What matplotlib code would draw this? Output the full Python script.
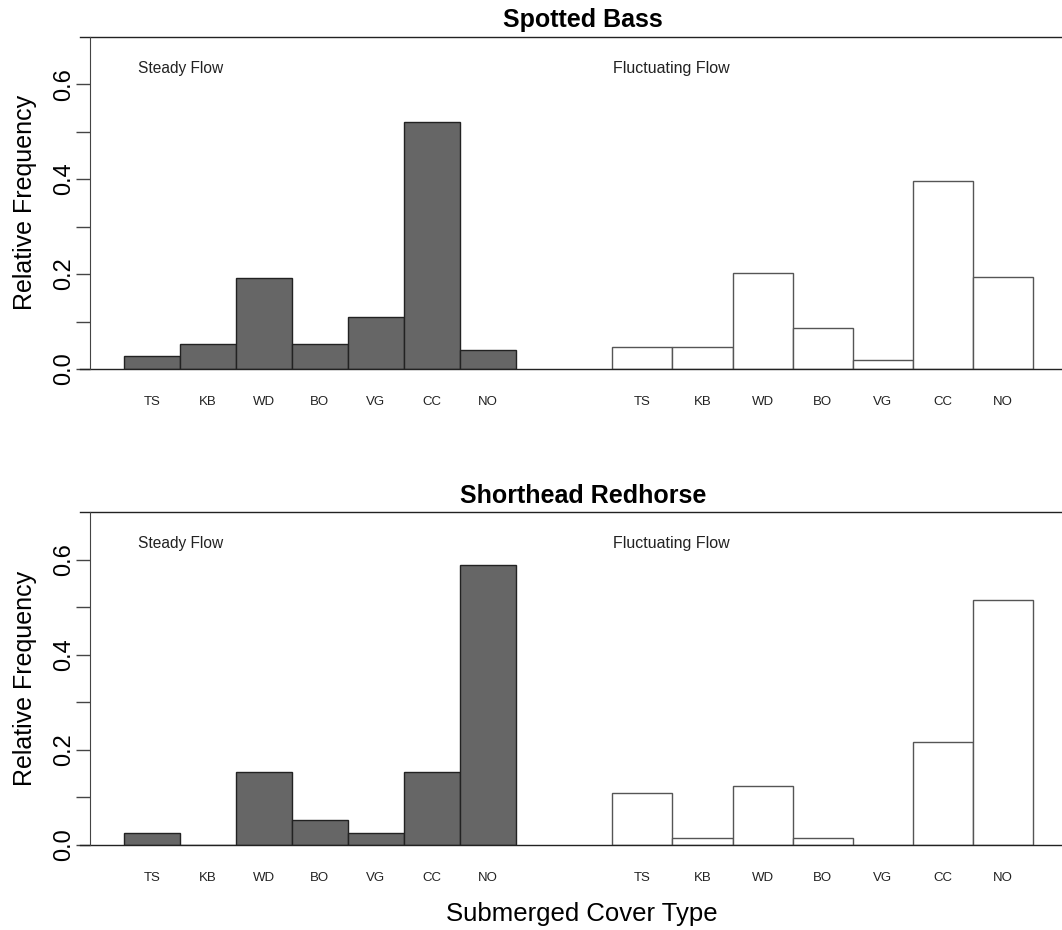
import numpy as np
import matplotlib.pyplot as plt

plt.rcParams['font.family'] = ['Liberation Sans', 'DejaVu Sans']

# cover type categories
cover = ['TS', 'KB', 'WD', 'BO', 'VG', 'CC', 'NO']

# relative frequencies
bass_steady = [0.027, 0.053, 0.191, 0.053, 0.109, 0.520, 0.040]
bass_fluct = [0.046, 0.046, 0.202, 0.086, 0.018, 0.397, 0.193]
redhorse_steady = [0.025, 0.0, 0.154, 0.051, 0.025, 0.154, 0.588]
redhorse_fluct = [0.108, 0.015, 0.124, 0.015, 0.0, 0.217, 0.516]

titles = ['Spotted Bass', 'Shorthead Redhorse']

W, H = 1062, 930
fig = plt.figure(figsize=(W / 100, H / 100), dpi=100)

# axes boxes in pixels: (left, bottom-y, top-y)
boxes = [(90, 369, 36.7), (90, 844.7, 512.3)]

# x positions: steady group has unit width bars, fluctuating group slightly wider
n = len(cover)
w1 = 1.0
x1 = np.arange(n) * w1
start2 = 8.225
w2 = 1.074
x2 = start2 + w2 * (np.arange(n) + 0.5)
line_col = '#444444'


def panel(ax, steady, fluct, title):
    ax.bar(x1, steady, width=w1, color='#666666', edgecolor='#222222', linewidth=1.0)
    ax.bar(x2, fluct, width=w2, color='white', edgecolor='#555555', linewidth=1.0)
    ax.set_xlim(-1.102, 16.255)
    ax.set_ylim(0, 0.7)
    for s in ['top', 'right', 'bottom']:
        ax.spines[s].set_visible(False)
    ax.spines['left'].set_color(line_col)
    ax.spines['left'].set_bounds(0, 0.7)
    tr = ax.get_yaxis_transform()
    for yy in [0, 0.7]:
        ax.plot([-10 / 972, 1], [yy, yy], transform=tr, color='#222222',
                linewidth=1.0, clip_on=False)
    ax.set_yticks(np.arange(0, 0.61, 0.1))
    ax.set_yticklabels(['0.0', '', '0.2', '', '0.4', '', '0.6'],
                       rotation=90, va='center', fontsize=17)
    ax.tick_params(axis='y', length=10, width=1.0, color=line_col, pad=1)
    ax.set_xticks([])
    for xs in [x1, x2]:
        for x, lab in zip(xs, cover):
            ax.text(x, -0.07, lab, ha='center', va='center', fontsize=9.5,
                    color='#222222')
    ax.text(-0.25, 0.634, 'Steady Flow', ha='left', va='center', fontsize=11.2,
            color='#222222')
    ax.text(start2 + 0.02, 0.634, 'Fluctuating Flow', ha='left', va='center',
            fontsize=11.5, color='#222222')
    ax.set_title(title, fontsize=18, fontweight='bold', pad=7, x=0.507)
    ax.set_ylabel('Relative Frequency', fontsize=18, labelpad=11)


data = [(bass_steady, bass_fluct), (redhorse_steady, redhorse_fluct)]
axes = []
for (left, ybot, ytop), (st, fl), title in zip(boxes, data, titles):
    ax = fig.add_axes([left / W, (H - ybot) / H, (W - left) / W, (ybot - ytop) / H])
    panel(ax, st, fl, title)
    axes.append(ax)

fig.text(582 / W, 1 - 914 / H, 'Submerged Cover Type', ha='center', va='center',
         fontsize=18.5)

fig.savefig('out.png', dpi=100)
